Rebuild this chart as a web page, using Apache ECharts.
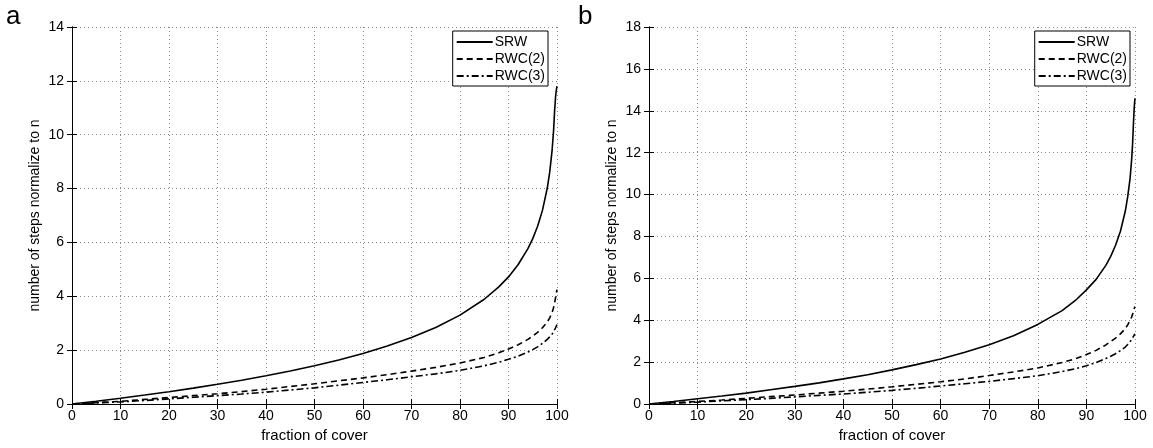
<!DOCTYPE html>
<html><head><meta charset="utf-8">
<script src="https://cdn.jsdelivr.net/npm/echarts@6/dist/echarts.min.js"></script>
<style>html,body{margin:0;padding:0;background:#fff}#c{width:1153px;height:448px}</style>
</head><body><div id="c"></div>
<script>
const xCover = [0, 5, 10, 15, 20, 25, 30, 35, 40, 45, 50, 55, 60, 65, 70, 75, 80, 85, 88, 90, 92, 94, 95, 96, 97, 98, 98.5, 99, 99.3, 99.5, 99.7, 99.85, 100];
const xTicks = ['0','10','20','30','40','50','60','70','80','90','100'];
const seriesNames = ['SRW', 'RWC(2)', 'RWC(3)'];
const aSRW  = [0, 0.105, 0.216, 0.333, 0.457, 0.59, 0.731, 0.883, 1.047, 1.226, 1.421, 1.637, 1.878, 2.152, 2.468, 2.842, 3.30, 3.89, 4.35, 4.72, 5.18, 5.77, 6.14, 6.60, 7.19, 8.02, 8.61, 9.44, 10.17, 10.86, 11.4, 11.65, 11.8];
const aRWC2 = [0, 0.05, 0.10, 0.17, 0.24, 0.31, 0.38, 0.46, 0.55, 0.65, 0.75, 0.86, 0.97, 1.09, 1.22, 1.36, 1.52, 1.73, 1.90, 2.04, 2.20, 2.40, 2.52, 2.66, 2.83, 3.05, 3.20, 3.40, 3.58, 3.73, 3.95, 4.12, 4.25];
const aRWC3 = [0, 0.04, 0.08, 0.13, 0.19, 0.25, 0.31, 0.37, 0.44, 0.52, 0.60, 0.70, 0.80, 0.90, 1.01, 1.12, 1.25, 1.42, 1.55, 1.66, 1.78, 1.93, 2.02, 2.12, 2.25, 2.40, 2.50, 2.60, 2.68, 2.75, 2.83, 2.90, 2.95];
const bSRW  = [0, 0.12, 0.25, 0.38, 0.52, 0.68, 0.84, 1.01, 1.20, 1.40, 1.63, 1.88, 2.15, 2.47, 2.83, 3.26, 3.80, 4.46, 5.00, 5.45, 5.95, 6.62, 7.05, 7.58, 8.25, 9.20, 9.90, 10.8, 11.65, 12.4, 13.5, 14.2, 14.6];
const bRWC2 = [0, 0.06, 0.12, 0.19, 0.27, 0.35, 0.43, 0.52, 0.61, 0.71, 0.82, 0.94, 1.06, 1.20, 1.36, 1.53, 1.72, 1.98, 2.18, 2.36, 2.56, 2.82, 2.98, 3.15, 3.35, 3.60, 3.78, 4.00, 4.15, 4.28, 4.45, 4.57, 4.65];
const bRWC3 = [0, 0.04, 0.09, 0.15, 0.21, 0.27, 0.34, 0.41, 0.48, 0.56, 0.65, 0.75, 0.86, 0.97, 1.08, 1.21, 1.35, 1.55, 1.70, 1.83, 1.98, 2.17, 2.28, 2.40, 2.55, 2.72, 2.84, 2.98, 3.07, 3.15, 3.23, 3.30, 3.35];
const panelLabels = ['a', 'b'];
const xName = 'fraction of cover';
const yName = 'number of steps normalize to n';

const FONT = 'Liberation Sans, Arial, sans-serif';
const pair = ys => xCover.map((x, i) => [x, ys[i]]);
const dashTypes = ['solid', [6, 4], [7, 3, 2, 3]];

function axesFor(gi, ymax) {
  const xs = [{
    gridIndex: gi, type: 'value', min: 0, max: 100, interval: 10,
    name: xName, nameLocation: 'middle', nameGap: 24,
    nameTextStyle: {fontFamily: FONT, fontSize: 15, color: '#000'},
    axisLine: {lineStyle: {color: '#000', width: 1}},
    axisTick: {inside: true, length: 5, lineStyle: {color: '#000'}},
    axisLabel: {fontFamily: FONT, fontSize: 14, color: '#000', margin: 5,
      formatter: v => xTicks[Math.round(v / 10)]},
    splitLine: {show: true, lineStyle: {color: '#888', type: [1, 3], width: 1}}
  }, {
    gridIndex: gi, type: 'value', min: 0, max: 100, interval: 10, position: 'top',
    axisLine: {show: true, lineStyle: {color: '#000', width: 1}},
    axisTick: {inside: true, length: 5, lineStyle: {color: '#000'}},
    axisLabel: {show: false}, splitLine: {show: false}
  }];
  const ys = [{
    gridIndex: gi, type: 'value', min: 0, max: ymax, interval: 2,
    name: yName, nameLocation: 'middle', nameGap: 30,
    nameTextStyle: {fontFamily: FONT, fontSize: 14, color: '#000'},
    axisLine: {show: true, lineStyle: {color: '#000', width: 1}},
    axisTick: {show: true, inside: true, length: 5, lineStyle: {color: '#000'}},
    axisLabel: {fontFamily: FONT, fontSize: 14, color: '#000', margin: 8},
    splitLine: {show: true, lineStyle: {color: '#888', type: [1, 3], width: 1}}
  }, {
    gridIndex: gi, type: 'value', min: 0, max: ymax, interval: 2, position: 'right',
    axisLine: {show: true, lineStyle: {color: '#000', width: 1}},
    axisTick: {show: true, inside: true, length: 5, lineStyle: {color: '#000'}},
    axisLabel: {show: false}, splitLine: {show: false}
  }];
  return {xs, ys};
}

const A = axesFor(0, 14), B = axesFor(1, 18);
const dataSets = [[aSRW, aRWC2, aRWC3], [bSRW, bRWC2, bRWC3]];
const series = [];
dataSets.forEach((set, gi) => {
  set.forEach((ys, si) => {
    series.push({
      name: seriesNames[si], type: 'line', xAxisIndex: gi * 2, yAxisIndex: gi * 2,
      data: pair(ys), smooth: false, showSymbol: false, symbol: 'none', silent: true,
      lineStyle: {color: '#000', width: 1.6, type: dashTypes[si]},
      itemStyle: {color: '#000'}, animation: false, z: 5
    });
  });
});

function legendFor(right) {
  return {
    orient: 'vertical', right: right, top: 31, data: seriesNames,
    itemStyle: {opacity: 0, borderWidth: 0},
    backgroundColor: '#fff', borderColor: '#000', borderWidth: 1, borderRadius: 0,
    padding: [4, 3, 3, 3], itemGap: 3, itemWidth: 36, itemHeight: 12,
    selectedMode: false, z: 10,
    textStyle: {fontFamily: FONT, fontSize: 14, color: '#000', padding: [0, 0, 0, -3]},
  };
}

const chart = echarts.init(document.getElementById('c'), null, {renderer: 'canvas'});
chart.setOption({
  animation: false,
  backgroundColor: '#fff',
  grid: [
    {left: 72, right: 596, top: 27, bottom: 42, containLabel: false},
    {left: 649, right: 18, top: 27, bottom: 42, containLabel: false}
  ],
  xAxis: [...A.xs, ...B.xs],
  yAxis: [...A.ys, ...B.ys],
  legend: [legendFor(605), legendFor(23)],
  graphic: [
    {type: 'text', left: 6, top: 4, style: {text: panelLabels[0], font: '26px ' + FONT, fill: '#000'}},
    {type: 'text', left: 578, top: 4, style: {text: panelLabels[1], font: '26px ' + FONT, fill: '#000'}}
  ],
  series
});
</script></body></html>
